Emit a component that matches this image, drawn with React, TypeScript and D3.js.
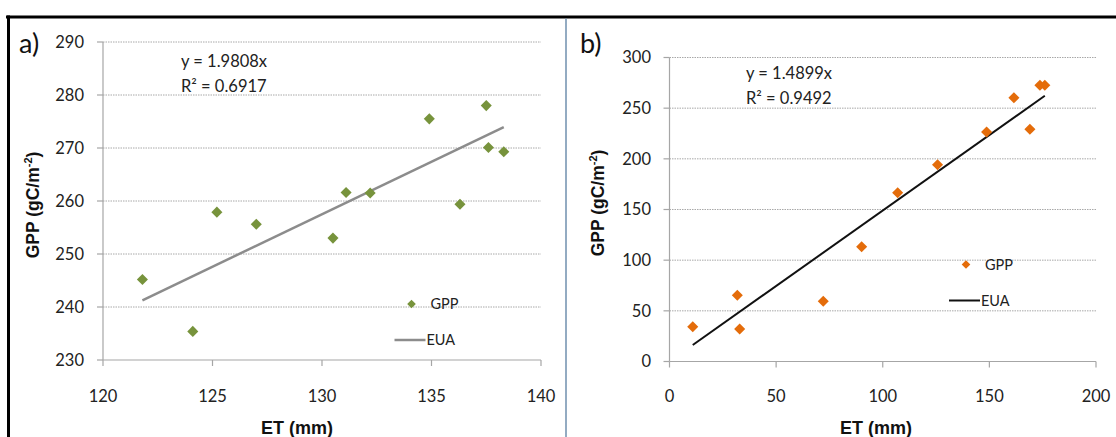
import React from 'react';
import * as d3 from 'd3';

// panel a) values
const etA = [121.8, 124.1, 125.2, 127.0, 130.5, 131.1, 132.2, 134.9, 136.3, 137.5, 137.6, 138.3];
const gppA = [245.2, 235.4, 257.9, 255.6, 253.0, 261.6, 261.5, 275.5, 259.4, 278.0, 270.1, 269.3];
const slopeA = 1.9808;
const xTicksA = [120, 125, 130, 135, 140];
const yTicksA = [230, 240, 250, 260, 270, 280, 290];

// panel b)
const etB = [10.9, 31.8, 32.9, 72.1, 90.1, 107.0, 125.7, 148.7, 161.5, 169.0, 173.7, 176.0];
const gppB = [34.3, 65.3, 32.1, 59.4, 113.3, 166.6, 194.2, 226.5, 260.3, 229.2, 272.6, 272.6];
const slopeB = 1.4899;
const xTicksB = [0, 50, 100, 150, 200];
const yTicksB = [0, 50, 100, 150, 200, 250, 300];

const tickFont = 'Lato, "Open Sans", sans-serif';
const boldFont = '"Liberation Sans", Arial, sans-serif';

const diamond = d3.symbol().type(d3.symbolDiamond2);

type PanelProps = {
  label: string;
  et: number[];
  gpp: number[];
  slope: number;
  xTicks: number[];
  yTicks: number[];
  box: { left: number; right: number; top: number; bottom: number };
  color: string;
  lineColor: string;
  lineWidth: number;
  eq: string[];
  eqPos: [number, number];
  legendPos: [number, number];
  labelX: number;
  yTitleX: number;
  yTitleY: number;
  xTitleX: number;
  tickLabelX: number;
};

function Panel(p: PanelProps) {
  const x = d3
    .scaleLinear()
    .domain(d3.extent(p.xTicks) as [number, number])
    .range([p.box.left, p.box.right]);
  const y = d3
    .scaleLinear()
    .domain(d3.extent(p.yTicks) as [number, number])
    .range([p.box.bottom, p.box.top]);

  const x0 = d3.min(p.et) as number;
  const x1 = d3.max(p.et) as number;
  const trend = d3
    .line<number>()
    .x((d) => x(d))
    .y((d) => y(d * p.slope))([x0, x1]);

  const [lx, ly] = p.legendPos;
  const [ex, ey] = p.eqPos;

  return (
    <g>
      <text x={p.labelX} y={53} fontFamily={tickFont} fontSize={27} fill="#111">
        {p.label}
      </text>
      {/* gridlines */}
      {p.yTicks.slice(1).map((t) => (
        <line
          key={'g' + t}
          x1={p.box.left}
          x2={p.box.right}
          y1={y(t)}
          y2={y(t)}
          stroke="#a8a8a8"
          strokeWidth={1}
          strokeDasharray="1.5,1"
        />
      ))}
      {/* axes */}
      <line x1={p.box.left} x2={p.box.left} y1={p.box.top} y2={p.box.bottom} stroke="#a6a6a6" strokeWidth={1.2} />
      <line x1={p.box.left} x2={p.box.right} y1={p.box.bottom} y2={p.box.bottom} stroke="#a6a6a6" strokeWidth={1.2} />
      {p.yTicks.map((t) => (
        <g key={'y' + t}>
          <line x1={p.box.left - 6} x2={p.box.left} y1={y(t)} y2={y(t)} stroke="#a6a6a6" strokeWidth={1.2} />
          <text
            x={p.tickLabelX}
            y={y(t)}
            dy="0.36em"
            textAnchor="end"
            fontFamily={tickFont}
            fontSize={16.5}
            fill="#222"
          >
            {t}
          </text>
        </g>
      ))}
      {p.xTicks.map((t) => (
        <g key={'x' + t}>
          <line x1={x(t)} x2={x(t)} y1={p.box.bottom} y2={p.box.bottom + 6} stroke="#a6a6a6" strokeWidth={1.2} />
          <text x={x(t)} y={402} textAnchor="middle" fontFamily={tickFont} fontSize={16.5} fill="#222">
            {t}
          </text>
        </g>
      ))}
      {/* trend line */}
      <path d={trend || ''} fill="none" stroke={p.lineColor} strokeWidth={p.lineWidth} />
      {/* points */}
      {p.et.map((v, i) => (
        <path
          key={'p' + i}
          d={diamond.size(78)() || ''}
          transform={`translate(${x(v)},${y(p.gpp[i])})`}
          fill={p.color}
        />
      ))}
      {/* equation */}
      <text x={ex} y={ey} fontFamily={tickFont} fontSize={16.5} fill="#222">
        {p.eq[0]}
      </text>
      <text x={ex} y={ey + 25} fontFamily={tickFont} fontSize={16.5} fill="#222">
        {p.eq[1]}
      </text>
      {/* legend */}
      <path d={diamond.size(48)() || ''} transform={`translate(${lx},${ly})`} fill={p.color} />
      <text x={lx + 19} y={ly} dy="0.36em" fontFamily={tickFont} fontSize={14.5} fill="#222">
        GPP
      </text>
      <line x1={lx - 17} x2={lx + 14} y1={ly + 36} y2={ly + 36} stroke={p.lineColor} strokeWidth={p.lineWidth} />
      <text x={lx + 15} y={ly + 36} dy="0.36em" fontFamily={tickFont} fontSize={14.5} fill="#222">
        EUA
      </text>
      {/* axis titles */}
      <text
        x={p.xTitleX}
        y={434}
        textAnchor="middle"
        fontFamily={boldFont}
        fontWeight="bold"
        fontSize={18}
        fill="#111"
      >
        ET (mm)
      </text>
      <text
        transform={`translate(${p.yTitleX},${p.yTitleY}) rotate(-90)`}
        textAnchor="middle"
        fontFamily={boldFont}
        fontWeight="bold"
        fontSize={17.5}
        fill="#111"
      >
        GPP (gC/m
        <tspan dy={-7} fontSize={11}>
          -2
        </tspan>
        <tspan dy={7}>)</tspan>
      </text>
    </g>
  );
}

export default function App() {
  return (
    <svg
      width={1116}
      height={437}
      style={{ position: 'absolute', left: 0, top: 0, background: '#fff' }}
    >
      <rect width={1116} height={437} fill="#fff" />
      <Panel
        label="a)"
        et={etA}
        gpp={gppA}
        slope={slopeA}
        xTicks={xTicksA}
        yTicks={yTicksA}
        box={{ left: 103, right: 541, top: 42, bottom: 360 }}
        color="#77933c"
        lineColor="#8c8c8c"
        lineWidth={2.5}
        eq={['y = 1.9808x', 'R² = 0.6917']}
        eqPos={[181, 67]}
        legendPos={[411.5, 304]}
        labelX={19}
        yTitleX={39}
        yTitleY={205}
        xTitleX={297}
        tickLabelX={84}
      />
      <Panel
        label="b)"
        et={etB}
        gpp={gppB}
        slope={slopeB}
        xTicks={xTicksB}
        yTicks={yTicksB}
        box={{ left: 669.5, right: 1096, top: 57.5, bottom: 361.5 }}
        color="#e46c0a"
        lineColor="#111"
        lineWidth={2}
        eq={['y = 1.4899x', 'R² = 0.9492']}
        eqPos={[746, 79]}
        legendPos={[966, 264.5]}
        labelX={580}
        yTitleX={604}
        yTitleY={203}
        xTitleX={876}
        tickLabelX={651}
      />
      {/* frame */}
      <line x1={6} x2={1116} y1={17} y2={17} stroke="#000" strokeWidth={3} />
      <line x1={8.5} x2={8.5} y1={15.5} y2={437} stroke="#000" strokeWidth={3} />
      <line x1={566} x2={566} y1={18.5} y2={437} stroke="#6f8fae" strokeWidth={1.5} />
    </svg>
  );
}
